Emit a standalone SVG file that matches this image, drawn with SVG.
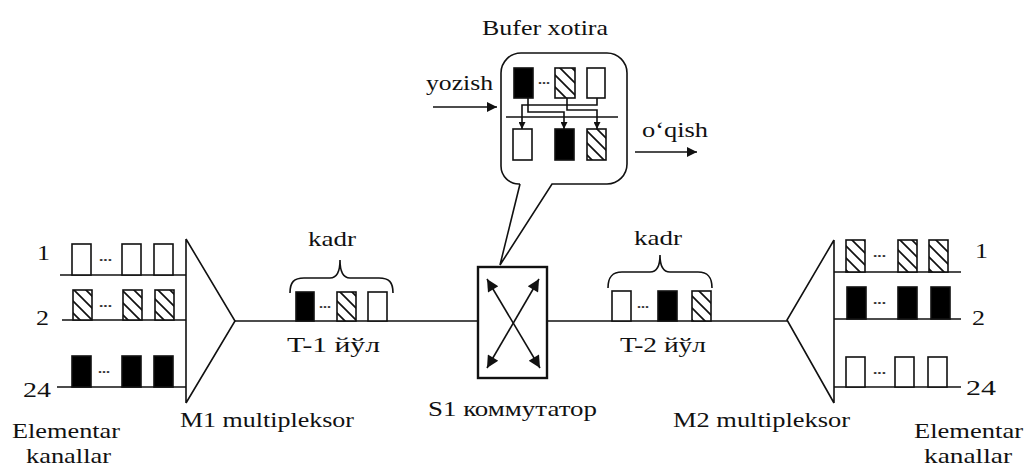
<svg xmlns="http://www.w3.org/2000/svg" width="1025" height="468" viewBox="0 0 1025 468">
<style>
.t{font-family:"Liberation Serif","Times New Roman",serif;font-size:22px;fill:#111}
.d{font-family:"Liberation Serif","Times New Roman",serif;font-size:13px;font-weight:bold;fill:#333}
.ln{stroke:#111;stroke-width:1.6;fill:none}
.w{fill:#fff;stroke:#111;stroke-width:1.6}
.b{fill:#000;stroke:#111;stroke-width:1.6}
.h{fill:url(#hatch);stroke:#111;stroke-width:1.6}
</style>
<defs>
<pattern id="hatch" patternUnits="userSpaceOnUse" width="12" height="12">
<rect width="12" height="12" fill="#fff"/>
<path d="M0,0 L12,12 M-3,9 L3,15 M9,-3 L15,3" stroke="#111" stroke-width="1.7"/>
</pattern>
<marker id="ah" viewBox="0 0 10 10" refX="10" refY="5" markerUnits="userSpaceOnUse" markerWidth="13" markerHeight="10" orient="auto-start-reverse">
<path d="M0,0 L10,5 L0,10 Z" fill="#111"/>
</marker>
<marker id="ax" viewBox="0 0 10 10" refX="10" refY="5" markerUnits="userSpaceOnUse" markerWidth="15" markerHeight="12" orient="auto-start-reverse">
<path d="M0,0 L10,5 L0,10 Z" fill="#111"/>
</marker>
<marker id="as" viewBox="0 0 10 10" refX="10" refY="5" markerUnits="userSpaceOnUse" markerWidth="7" markerHeight="7" orient="auto">
<path d="M0,0 L10,5 L0,10 Z" fill="#111"/>
</marker>
</defs>

<g id="connectors">
<line class="ln" x1="235" y1="321" x2="478" y2="321"/>
<line class="ln" x1="547" y1="321" x2="787" y2="321"/>
</g>

<g id="channels-left">
<line class="ln" x1="60" y1="275" x2="186" y2="275"/>
<line class="ln" x1="62" y1="320" x2="186" y2="320"/>
<line class="ln" x1="57" y1="387" x2="186" y2="387"/>
<rect class="w" x="72" y="244" width="19" height="31"/>
<rect class="w" x="122" y="244" width="19" height="31"/>
<rect class="w" x="154" y="244" width="19" height="31"/>
<rect class="h" x="73" y="290" width="19" height="30"/>
<rect class="h" x="123" y="290" width="19" height="30"/>
<rect class="h" x="155" y="290" width="19" height="30"/>
<rect class="b" x="72" y="356" width="19" height="31"/>
<rect class="b" x="122" y="356" width="19" height="31"/>
<rect class="b" x="154" y="356" width="19" height="31"/>
<text class="d" x="99" y="261" textLength="13" lengthAdjust="spacingAndGlyphs">...</text>
<text class="d" x="99" y="307" textLength="13" lengthAdjust="spacingAndGlyphs">...</text>
<text class="d" x="98" y="373" textLength="12" lengthAdjust="spacingAndGlyphs">...</text>
<text class="t" x="37" y="260" textLength="13" lengthAdjust="spacingAndGlyphs">1</text>
<text class="t" x="36" y="325" textLength="13" lengthAdjust="spacingAndGlyphs">2</text>
<text class="t" x="23" y="397" textLength="28" lengthAdjust="spacingAndGlyphs">24</text>
<text class="t" x="12" y="438" textLength="108" lengthAdjust="spacingAndGlyphs">Elementar</text>
<text class="t" x="26" y="463" textLength="85" lengthAdjust="spacingAndGlyphs">kanallar</text>
</g>

<g id="mux-left">
<path class="ln" d="M186,239 L186,403 M186,239 L235,321 L186,403"/>
<text class="t" x="180" y="427" textLength="174" lengthAdjust="spacingAndGlyphs">M1 multipleksor</text>
</g>

<g id="frame-t1">
<rect class="b" x="296" y="292" width="18" height="29"/>
<rect class="h" x="337" y="292" width="19" height="29"/>
<rect class="w" x="368" y="292" width="19" height="29"/>
<text class="d" x="319" y="308" textLength="12" lengthAdjust="spacingAndGlyphs">...</text>
<path class="ln" d="M290,293 C290,282 294,278 304,278 L330,278 C336,278 340,274 340,260 C340,274 344,278 350,278 L379,278 C389,278 393,282 393,293"/>
<text class="t" x="308" y="246" textLength="48" lengthAdjust="spacingAndGlyphs">kadr</text>
<text class="t" x="287" y="352" textLength="93" lengthAdjust="spacingAndGlyphs">T-1 йўл</text>
</g>

<g id="switch">
<rect x="478" y="267" width="69" height="111" fill="#fff" stroke="#111" stroke-width="2.4"/>
<line class="ln" x1="487" y1="279" x2="540" y2="368" marker-start="url(#ax)" marker-end="url(#ax)"/>
<line class="ln" x1="539" y1="279" x2="487" y2="368" marker-start="url(#ax)" marker-end="url(#ax)"/>
<text class="t" x="428" y="416" textLength="169" lengthAdjust="spacingAndGlyphs">S1 коммутатор</text>
</g>

<g id="frame-t2">
<rect class="w" x="612" y="291" width="19" height="30"/>
<rect class="b" x="658" y="291" width="19" height="30"/>
<rect class="h" x="692" y="291" width="19" height="30"/>
<text class="d" x="637" y="308" textLength="12" lengthAdjust="spacingAndGlyphs">...</text>
<path class="ln" d="M608,288 C608,277 612,272 622,272 L650,272 C656,272 660,268 660,255 C660,268 664,272 670,272 L698,272 C708,272 712,277 712,288"/>
<text class="t" x="634" y="245" textLength="48" lengthAdjust="spacingAndGlyphs">kadr</text>
<text class="t" x="620" y="352" textLength="86" lengthAdjust="spacingAndGlyphs">T-2 йўл</text>
</g>

<g id="mux-right">
<path class="ln" d="M834,240 L834,403 M834,240 L787,320 L834,403"/>
<text class="t" x="673" y="427" textLength="177" lengthAdjust="spacingAndGlyphs">M2 multipleksor</text>
</g>

<g id="channels-right">
<line class="ln" x1="834" y1="272" x2="961" y2="272"/>
<line class="ln" x1="834" y1="319" x2="961" y2="319"/>
<line class="ln" x1="834" y1="387" x2="961" y2="387"/>
<rect class="h" x="846" y="240" width="19" height="32"/>
<rect class="h" x="898" y="240" width="19" height="32"/>
<rect class="h" x="929" y="240" width="19" height="32"/>
<rect class="b" x="847" y="287" width="19" height="32"/>
<rect class="b" x="898" y="287" width="19" height="32"/>
<rect class="b" x="931" y="287" width="19" height="32"/>
<rect class="w" x="846" y="357" width="19" height="30"/>
<rect class="w" x="895" y="357" width="19" height="30"/>
<rect class="w" x="928" y="357" width="19" height="30"/>
<text class="d" x="873" y="257" textLength="13" lengthAdjust="spacingAndGlyphs">...</text>
<text class="d" x="873" y="304" textLength="13" lengthAdjust="spacingAndGlyphs">...</text>
<text class="d" x="873" y="374" textLength="13" lengthAdjust="spacingAndGlyphs">...</text>
<text class="t" x="975" y="258" textLength="13" lengthAdjust="spacingAndGlyphs">1</text>
<text class="t" x="972" y="325" textLength="13" lengthAdjust="spacingAndGlyphs">2</text>
<text class="t" x="966" y="395" textLength="30" lengthAdjust="spacingAndGlyphs">24</text>
<text class="t" x="914" y="438" textLength="109" lengthAdjust="spacingAndGlyphs">Elementar</text>
<text class="t" x="924" y="463" textLength="88" lengthAdjust="spacingAndGlyphs">kanallar</text>
</g>

<g id="buffer">
<path d="M520,184 L500,265 L552,184 L607,184 A20,20 0 0 0 627,164 L627,73 A20,20 0 0 0 607,53 L521,53 A20,20 0 0 0 501,73 L501,166 A18,18 0 0 0 520,184" fill="#fff" stroke="#111" stroke-width="1.6"/>
<text class="t" x="482" y="35" textLength="126" lengthAdjust="spacingAndGlyphs">Bufer xotira</text>
<rect class="b" x="514" y="68" width="19" height="30"/>
<rect class="h" x="555" y="68" width="20" height="30"/>
<rect class="w" x="587" y="68" width="18" height="30"/>
<text class="d" x="538" y="84" textLength="12" lengthAdjust="spacingAndGlyphs">...</text>
<line class="ln" x1="506" y1="117" x2="618" y2="117"/>
<path class="ln" d="M597,98 L597,105 L522,105 L522,129" marker-end="url(#as)"/>
<path class="ln" d="M528,98 L528,112 L564,112 L564,129" marker-end="url(#as)"/>
<path class="ln" d="M567,98 L567,110 L597,110 L597,129" marker-end="url(#as)"/>
<rect class="w" x="513" y="129" width="19" height="31"/>
<rect class="b" x="555" y="129" width="19" height="31"/>
<rect class="h" x="587" y="129" width="19" height="31"/>
<text class="t" x="426" y="90" textLength="67" lengthAdjust="spacingAndGlyphs">yozish</text>
<line class="ln" x1="433" y1="107" x2="497" y2="107" marker-end="url(#ah)"/>
<text class="t" x="642" y="137" textLength="66" lengthAdjust="spacingAndGlyphs">o‘qish</text>
<line class="ln" x1="635" y1="152" x2="697" y2="152" marker-end="url(#ah)"/>
</g>
</svg>
